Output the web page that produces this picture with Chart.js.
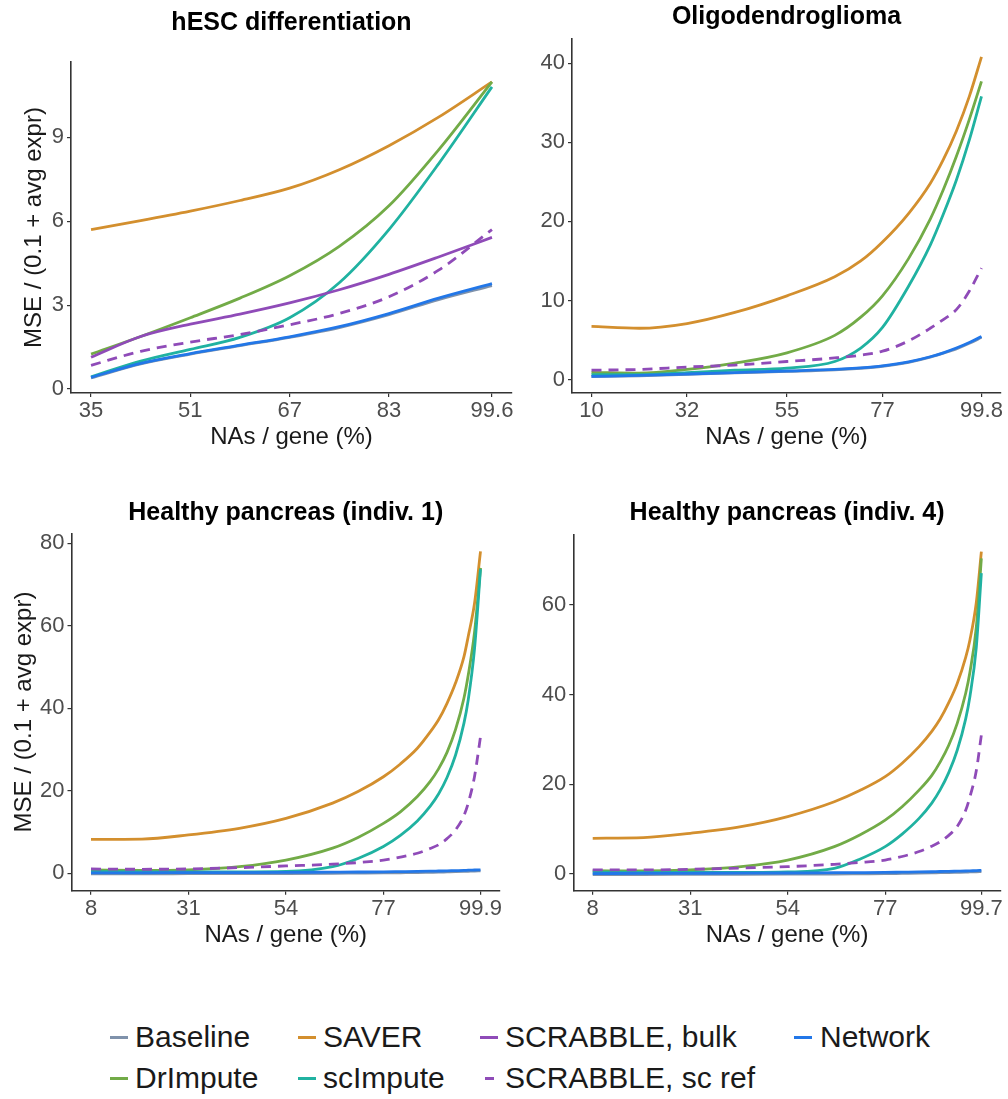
<!DOCTYPE html>
<html>
<head>
<meta charset="utf-8">
<script src="https://cdn.jsdelivr.net/npm/chart.js@4.4.1/dist/chart.umd.min.js"></script>
<style>
  body { margin: 0; background: #fff; width: 1008px; height: 1099px; position: relative; overflow: hidden;
         font-family: "Liberation Sans", Arial, sans-serif; }
  canvas { position: absolute; }
  .lg { position: absolute; font-size: 30px; line-height: 34px; color: #1a1a1a; white-space: nowrap; }
  .key { position: absolute; height: 2.5px; }
</style>
</head>
<body>
<canvas id="c1" width="540" height="470" style="left:0;top:0"></canvas>
<canvas id="c2" width="504" height="470" style="left:504px;top:0"></canvas>
<canvas id="c3" width="540" height="490" style="left:0;top:470px"></canvas>
<canvas id="c4" width="504" height="490" style="left:504px;top:470px"></canvas>
<div id="legend"></div>
<script>
'use strict';

// ---- data ----
const methods = ['Baseline', 'DrImpute', 'SAVER', 'scImpute', 'SCRABBLE, bulk', 'SCRABBLE, sc ref', 'Network'];

// hESC differentiation
const hescX        = [35, 43, 51, 59, 67, 75, 83, 91, 99.6];
const hescBaseline = [0.40, 0.90, 1.25, 1.55, 1.85, 2.20, 2.66, 3.20, 3.70];
const hescDrImpute = [1.25, 1.88, 2.55, 3.25, 4.05, 5.10, 6.55, 8.55, 10.98];
const hescSaver    = [5.70, 6.02, 6.36, 6.74, 7.18, 7.84, 8.70, 9.72, 10.98];
const hescScImpute = [0.44, 1.00, 1.42, 1.85, 2.55, 3.80, 5.70, 8.05, 10.80];
const hescBulk     = [1.14, 1.88, 2.32, 2.68, 3.08, 3.55, 4.10, 4.72, 5.42];
const hescScRef    = [0.85, 1.35, 1.68, 1.95, 2.30, 2.70, 3.30, 4.25, 5.70];
const hescNetwork  = [0.42, 0.92, 1.27, 1.57, 1.87, 2.23, 2.70, 3.25, 3.77];
const hescXTicks   = [35, 51, 67, 83, 99.6];
const hescYTicks   = [0, 3, 6, 9];

// Oligodendroglioma
const oligoX        = [10, 21, 32, 43, 55, 66, 72, 77, 83, 88, 91, 94, 97, 99.8];
const oligoBaseline = [0.38, 0.50, 0.68, 0.86, 1.05, 1.25, 1.45, 1.70, 2.20, 2.85, 3.35, 3.90, 4.60, 5.35];
const oligoDrImpute = [0.93, 0.84, 1.30, 2.10, 3.40, 5.60, 7.90, 10.6, 15.3, 20.3, 24.0, 28.2, 32.9, 37.7];
const oligoSaver    = [6.73, 6.50, 7.10, 8.50, 10.6, 13.0, 15.0, 17.4, 21.0, 24.8, 27.8, 31.4, 35.8, 40.8];
const oligoScImpute = [0.63, 0.63, 0.90, 1.20, 1.45, 2.30, 4.00, 6.60, 11.8, 17.0, 20.9, 25.2, 30.3, 35.8];
const oligoScRef    = [1.20, 1.30, 1.60, 1.85, 2.30, 2.75, 3.10, 3.60, 4.90, 6.50, 7.60, 8.85, 11.2, 14.1];
const oligoNetwork  = [0.42, 0.55, 0.72, 0.90, 1.10, 1.30, 1.50, 1.75, 2.25, 2.90, 3.40, 4.00, 4.70, 5.47];
const oligoXTicks   = [10, 32, 55, 77, 99.8];
const oligoYTicks   = [0, 10, 20, 30, 40];

// Healthy pancreas (indiv. 1)
const panc1X        = [8, 20, 31, 43, 54, 65, 71, 77, 81, 85, 88, 90, 92, 94, 96, 97, 98.5, 99.9];
const panc1Baseline = [-0.15, -0.12, -0.10, -0.08, -0.05, 0.00, 0.04, 0.08, 0.13, 0.18, 0.24, 0.28, 0.33, 0.38, 0.44, 0.48, 0.54, 0.60];
const panc1DrImpute = [0.80, 0.70, 0.85, 1.60, 3.20, 6.10, 8.70, 12.1, 14.9, 18.6, 22.2, 25.3, 29.3, 34.8, 42.5, 48.0, 58.5, 74.0];
const panc1Saver    = [8.24, 8.30, 9.30, 10.9, 13.3, 17.0, 19.8, 23.4, 26.5, 30.3, 34.2, 37.2, 41.2, 46.1, 52.5, 57.4, 65.5, 78.0];
const panc1ScImpute = [0.40, 0.35, 0.35, 0.35, 0.45, 1.60, 3.60, 6.50, 9.20, 12.7, 16.2, 19.2, 23.2, 28.6, 36.4, 42.0, 54.5, 73.7];
const panc1ScRef    = [1.05, 0.97, 1.05, 1.37, 1.78, 2.20, 2.60, 3.20, 3.90, 4.85, 6.00, 6.90, 8.40, 10.5, 14.0, 17.0, 23.5, 33.1];
const panc1Network  = [0.10, 0.12, 0.15, 0.18, 0.22, 0.28, 0.31, 0.35, 0.40, 0.45, 0.50, 0.55, 0.60, 0.65, 0.70, 0.75, 0.80, 0.85];
const panc1XTicks   = [8, 31, 54, 77, 99.9];
const panc1YTicks   = [0, 20, 40, 60, 80];

// Healthy pancreas (indiv. 4)
const panc4X        = [8, 20, 31, 43, 54, 65, 71, 77, 81, 85, 88, 90, 92, 94, 96, 97, 98.5, 99.7];
const panc4Baseline = [-0.15, -0.12, -0.10, -0.08, -0.05, 0.00, 0.04, 0.08, 0.13, 0.18, 0.23, 0.28, 0.31, 0.36, 0.41, 0.45, 0.50, 0.55];
const panc4DrImpute = [0.74, 0.67, 0.90, 1.64, 3.10, 6.10, 8.70, 12.0, 15.0, 18.7, 22.0, 25.0, 28.7, 33.6, 40.3, 45.0, 55.0, 70.4];
const panc4Saver    = [7.96, 8.10, 9.07, 10.56, 12.8, 16.1, 18.6, 21.7, 24.7, 28.4, 31.8, 34.6, 38.2, 42.5, 48.3, 52.2, 60.5, 71.9];
const panc4ScImpute = [0.40, 0.35, 0.35, 0.35, 0.45, 1.26, 3.30, 6.10, 8.90, 12.4, 15.8, 18.8, 22.6, 27.6, 34.6, 39.6, 50.5, 67.1];
const panc4ScRef    = [0.90, 0.90, 1.04, 1.34, 1.64, 2.16, 2.55, 3.10, 3.90, 5.00, 6.20, 7.20, 8.60, 10.6, 14.2, 17.2, 23.0, 31.0];
const panc4Network  = [0.10, 0.12, 0.15, 0.18, 0.22, 0.28, 0.31, 0.35, 0.40, 0.45, 0.50, 0.55, 0.58, 0.62, 0.66, 0.70, 0.75, 0.80];
const panc4XTicks   = [8, 31, 54, 77, 99.7];
const panc4YTicks   = [0, 20, 40, 60];

// ---- styling ----
const FONT = '"Liberation Sans", Arial, sans-serif';
const COLORS = {
    'Baseline': '#7f92ab',
    'DrImpute': '#72ab47',
    'SAVER': '#d38f2e',
    'scImpute': '#20b2a1',
    'SCRABBLE, bulk': '#8f4bb8',
    'SCRABBLE, sc ref': '#8f4bb8',
    'Network': '#2277e8',
};
// first entry is drawn on top
const DRAW_ORDER = ['Network', 'SCRABBLE, sc ref', 'SCRABBLE, bulk', 'scImpute', 'DrImpute', 'SAVER', 'Baseline'];

const makePanel = (id, p) => {
    const datasets = [];
    DRAW_ORDER.forEach(name => {
        const ys = p.series[name];
        if (!ys) return;
        datasets.push({
            label: name,
            data: p.x.map((x, i) => ({ x, y: ys[i] })),
            borderColor: COLORS[name],
            borderWidth: 2.8,
            borderDash: name === 'SCRABBLE, sc ref' ? [10, 7] : [],
            pointRadius: 0,
            cubicInterpolationMode: 'monotone',
            fill: false,
        });
    });

    const tickFont = { family: FONT, size: 22 };
    const titleFont = { family: FONT, size: 24 };

    return new Chart(document.getElementById(id), {
        type: 'line',
        data: { datasets },
        options: {
            responsive: false, animation: false,
            layout: { padding: { left: 0, right: p.padRight, top: 0, bottom: 0 } },
            plugins: {
                legend: { display: false },
                tooltip: { enabled: false },
                title: {
                    display: true, text: p.title, fullSize: false, color: '#000',
                    font: { family: FONT, size: 25, weight: 'bold' },
                    padding: { top: p.titleTop, bottom: p.titleBottom },
                },
            },
            scales: {
                x: {
                    type: 'linear', min: p.xMin, max: p.xMax,
                    afterFit: a => { a.height = p.xAxisH; },
                    afterBuildTicks: a => { a.ticks = p.xTicks.map(v => ({ value: v })); },
                    ticks: { autoSkip: false, maxRotation: 0, color: '#4d4d4d', font: tickFont, padding: 1,
                             callback: v => String(v) },
                    grid: { drawOnChartArea: false, drawTicks: true, tickLength: 4, color: '#333', lineWidth: 1.2 },
                    border: { display: true, color: '#333', width: 1.6 },
                    title: { display: true, text: 'NAs / gene (%)', color: '#1a1a1a', font: titleFont,
                             padding: { top: 0, bottom: p.xTitlePad } },
                },
                y: {
                    type: 'linear', min: p.yMin, max: p.yMax,
                    afterFit: a => { a.width = p.yAxisW; },
                    afterBuildTicks: a => { a.ticks = p.yTicks.map(v => ({ value: v })); },
                    ticks: { autoSkip: false, color: '#4d4d4d', font: tickFont, padding: 3,
                             callback: v => String(v) },
                    grid: { drawOnChartArea: false, drawTicks: true, tickLength: 4, color: '#333', lineWidth: 1.2 },
                    border: { display: true, color: '#333', width: 1.6 },
                    title: { display: p.yTitle, text: 'MSE / (0.1 + avg expr)', color: '#1a1a1a', font: titleFont,
                             padding: { top: p.yTitlePad, bottom: 0 } },
                },
            },
        },
    });
};

makePanel('c1', {
    title: 'hESC differentiation', x: hescX, xTicks: hescXTicks, yTicks: hescYTicks,
    series: { 'Baseline': hescBaseline, 'DrImpute': hescDrImpute, 'SAVER': hescSaver, 'scImpute': hescScImpute,
              'SCRABBLE, bulk': hescBulk, 'SCRABBLE, sc ref': hescScRef, 'Network': hescNetwork },
    xMin: 31.77, xMax: 102.83, yMin: -0.14, yMax: 11.69,
    padRight: 28, yAxisW: 71, xAxisH: 77, titleTop: 8, titleBottom: 24,
    xTitlePad: 18.6, yTitle: true, yTitlePad: 20,
});

makePanel('c2', {
    title: 'Oligodendroglioma', x: oligoX, xTicks: oligoXTicks, yTicks: oligoYTicks,
    series: { 'Baseline': oligoBaseline, 'DrImpute': oligoDrImpute, 'SAVER': oligoSaver, 'scImpute': oligoScImpute,
              'SCRABBLE, sc ref': oligoScRef, 'Network': oligoNetwork },
    xMin: 5.51, xMax: 104.29, yMin: -1.68, yMax: 43.14,
    padRight: 7, yAxisW: 68, xAxisH: 77, titleTop: 2.6, titleBottom: 5.7,
    xTitlePad: 18.6, yTitle: false, yTitlePad: 0,
});

makePanel('c3', {
    title: 'Healthy pancreas (indiv. 1)', x: panc1X, xTicks: panc1XTicks, yTicks: panc1YTicks,
    series: { 'Baseline': panc1Baseline, 'DrImpute': panc1DrImpute, 'SAVER': panc1Saver, 'scImpute': panc1ScImpute,
              'SCRABBLE, sc ref': panc1ScRef, 'Network': panc1Network },
    xMin: 3.4, xMax: 104.5, yMin: -4.22, yMax: 82.4,
    padRight: 40, yAxisW: 71.5, xAxisH: 69.3, titleTop: 28.6, titleBottom: 4.7,
    xTitlePad: 10, yTitle: true, yTitlePad: 10,
});

makePanel('c4', {
    title: 'Healthy pancreas (indiv. 4)', x: panc4X, xTicks: panc4XTicks, yTicks: panc4YTicks,
    series: { 'Baseline': panc4Baseline, 'DrImpute': panc4DrImpute, 'SAVER': panc4Saver, 'scImpute': panc4ScImpute,
              'SCRABBLE, sc ref': panc4ScRef, 'Network': panc4Network },
    xMin: 3.415, xMax: 104.285, yMin: -3.73, yMax: 75.6,
    padRight: 7.2, yAxisW: 69.3, xAxisH: 69.3, titleTop: 28.6, titleBottom: 6.4,
    xTitlePad: 10, yTitle: false, yTitlePad: 0,
});

// ---- legend (two rows, four columns, like the ggplot guide) ----
const legendRows = [1037, 1078];
const legendCols = [{ key: 119, text: 135 }, { key: 307, text: 323 }, { key: 489, text: 505 }, { key: 803, text: 820 }];
const legendSlots = [
    ['Baseline', 0, 0], ['SAVER', 0, 1], ['SCRABBLE, bulk', 0, 2], ['Network', 0, 3],
    ['DrImpute', 1, 0], ['scImpute', 1, 1], ['SCRABBLE, sc ref', 1, 2],
];
const legend = document.getElementById('legend');
legendSlots.forEach(([name, r, c]) => {
    const cy = legendRows[r], col = legendCols[c];
    const len = name === 'SCRABBLE, sc ref' ? 9 : 18;
    const key = document.createElement('div');
    key.className = 'key';
    key.style.cssText = `left:${col.key - len / 2}px;top:${cy - 1}px;width:${len}px;background:${COLORS[name]}`;
    legend.appendChild(key);
    const t = document.createElement('div');
    t.className = 'lg';
    t.style.left = col.text + 'px';
    t.style.top = (cy - 17) + 'px';
    t.textContent = name;
    legend.appendChild(t);
});
</script>
</body>
</html>
